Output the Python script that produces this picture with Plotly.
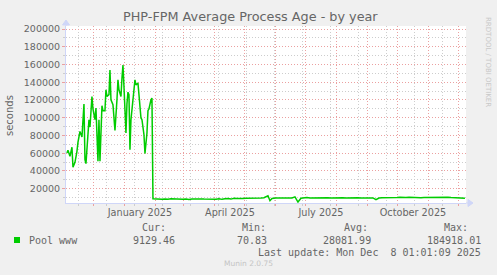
import plotly.graph_objects as go

# ---- data ----
dates_early = ["2024-11-04", "2024-11-05", "2024-11-07", "2024-11-09", "2024-11-10", "2024-11-12",
               "2024-11-14", "2024-11-15", "2024-11-17", "2024-11-19", "2024-11-21", "2024-11-22",
               "2024-11-23", "2024-11-25", "2024-11-26", "2024-11-27", "2024-11-29", "2024-11-30",
               "2024-12-02", "2024-12-03", "2024-12-04", "2024-12-05", "2024-12-06", "2024-12-07",
               "2024-12-09", "2024-12-10", "2024-12-12", "2024-12-13", "2024-12-14", "2024-12-16",
               "2024-12-17", "2024-12-18", "2024-12-20", "2024-12-21", "2024-12-22", "2024-12-24",
               "2024-12-25", "2024-12-26", "2024-12-28", "2024-12-29", "2024-12-30", "2024-12-31",
               "2025-01-02", "2025-01-03", "2025-01-04", "2025-01-05", "2025-01-06", "2025-01-07",
               "2025-01-08", "2025-01-10", "2025-01-11", "2025-01-12", "2025-01-14", "2025-01-15",
               "2025-01-17", "2025-01-18", "2025-01-20", "2025-01-21", "2025-01-23", "2025-01-24",
               "2025-01-25", "2025-01-27", "2025-01-28"]
values_early = [60300, 63300, 56500, 66700, 44200, 49800,
                62100, 72200, 84600, 78300, 115400, 52800,
                48300, 80900, 97800, 89500, 123900, 110000,
                97800, 110900, 69700, 50900, 97800, 50900,
                113500, 108000, 108000, 131500, 124000, 126000,
                153900, 120200, 114600, 97800, 85700, 120200,
                142700, 131500, 124000, 144600, 159500, 135200,
                82800, 116000, 128800, 126000, 64000, 97800,
                108000, 127000, 142700, 137000, 139000, 126000,
                99700, 97800, 80900, 59600, 82800, 108000,
                110000, 120200, 122100]

dates_late = ["2025-01-29", "2025-02-01", "2025-02-04", "2025-02-07", "2025-02-10", "2025-02-13",
              "2025-02-16", "2025-02-19", "2025-02-22", "2025-02-25", "2025-02-28", "2025-03-03",
              "2025-03-06", "2025-03-09", "2025-03-12", "2025-03-15", "2025-03-18", "2025-03-21",
              "2025-03-24", "2025-03-27", "2025-03-30", "2025-04-02", "2025-04-05", "2025-04-08",
              "2025-04-11", "2025-04-14", "2025-04-17", "2025-04-20", "2025-04-23", "2025-04-26",
              "2025-04-29", "2025-05-02", "2025-05-05", "2025-05-08", "2025-05-11", "2025-05-14",
              "2025-05-17", "2025-05-20", "2025-05-24", "2025-05-26", "2025-05-28", "2025-06-01",
              "2025-06-04", "2025-06-07", "2025-06-10", "2025-06-13", "2025-06-17", "2025-06-20",
              "2025-06-23", "2025-06-26", "2025-06-29", "2025-07-02", "2025-07-05", "2025-07-08",
              "2025-07-11", "2025-07-14", "2025-07-17", "2025-07-20", "2025-07-23", "2025-07-26",
              "2025-07-29", "2025-08-01", "2025-08-04", "2025-08-07", "2025-08-10", "2025-08-13",
              "2025-08-16", "2025-08-19", "2025-08-22", "2025-08-25", "2025-08-28", "2025-08-31",
              "2025-09-03", "2025-09-06", "2025-09-09", "2025-09-12", "2025-09-15", "2025-09-18",
              "2025-09-21", "2025-09-24", "2025-09-27", "2025-09-30", "2025-10-03", "2025-10-06",
              "2025-10-09", "2025-10-12", "2025-10-15", "2025-10-18", "2025-10-21", "2025-10-24",
              "2025-10-27", "2025-10-30", "2025-11-02", "2025-11-05", "2025-11-08", "2025-11-11",
              "2025-11-14", "2025-11-17", "2025-11-20", "2025-11-23", "2025-11-26", "2025-11-29",
              "2025-12-02", "2025-12-05", "2025-12-07"]
values_late = [8600, 8300, 8700, 8200, 8500, 8100,
               8600, 8400, 8800, 8300, 8200, 8500,
               7900, 8400, 8700, 8200, 8500, 8300,
               8100, 8600, 8400, 8200, 8700, 8000,
               8600, 8900, 8300, 9300, 9000, 9400,
               9100, 9300, 9200, 9500, 9300, 9400,
               9600, 9800, 12000, 6500, 9100, 9400,
               9300, 9500, 9200, 9400, 9600, 10800,
               5000, 9300, 9700, 10000, 9500, 9700,
               9900, 9600, 9800, 9700, 9900, 9600,
               9800, 9700, 9900, 9700, 9600, 9800,
               9700, 9900, 9800, 9600, 9800, 9700,
               9900, 9600, 7600, 9500, 9800, 9700,
               10000, 9900, 10200, 10100, 10300, 9900,
               10200, 10400, 10100, 10000, 10300, 9800,
               10100, 10200, 9900, 10300, 10000, 10200,
               9900, 10100, 10300, 10000, 9800, 10100,
               9900, 9600, 9200]

month_label_pos = ["2025-01-16", "2025-04-16", "2025-07-16", "2025-10-16"]
month_label_text = ["January 2025", "April 2025", "July 2025", "October 2025"]

series_name = "Pool www"
stat_headers = ["Cur:", "Min:", "Avg:", "Max:"]
stat_values = ["9129.46", "70.83", "28081.99", "184918.01"]
last_update = "Last update: Mon Dec\u00a0 8 01:01:09 2025"

# ---- layout geometry (pixels) ----
W, H = 497, 275
L, R, T, B = 66, 31, 26, 72
PW, PH = W - L - R, H - T - B


def PX(x):
    return (x - L) / PW


def PY(y):
    return (H - B - y) / PH


FONT = "DejaVu Sans"
MONO = "DejaVu Sans Mono"
FC = "#666666"
AXC = "#CFD6F8"
MAJ = "#EBA0A0"
MIN = "#CDCDCD"
DASH = "1px,2px"

fig = go.Figure()
fig.add_trace(go.Scatter(x=dates_early + dates_late, y=values_early + values_late,
                         mode="lines", line=dict(color="#00CC00", width=1.5),
                         hoverinfo="skip", showlegend=False))
# anchor trace so the label axis is drawn
fig.add_trace(go.Scatter(x=[month_label_pos[0]], y=[None], xaxis="x2", mode="markers",
                         hoverinfo="skip", showlegend=False))

fig.update_layout(
    width=W, height=H, autosize=False,
    margin=dict(l=L, r=R, t=T, b=B, pad=0),
    paper_bgcolor="#F0F0F0", plot_bgcolor="#FFFFFF",
    font=dict(family=FONT, color=FC, size=10),
    xaxis=dict(type="date", range=["2024-11-03 01:00", "2025-12-08 01:00"],
               tick0="2024-12-01", dtick="M1", showticklabels=False,
               showgrid=True, gridcolor=MAJ, griddash=DASH, gridwidth=1,
               ticks="outside", ticklen=2, tickcolor=MAJ,
               showline=True, linecolor=AXC, linewidth=1, zeroline=False,
               minor=dict(tick0="2024-11-16", dtick=28 * 86400000, showgrid=True,
                          gridcolor=MIN, griddash=DASH, gridwidth=1,
                          ticks="outside", ticklen=2, tickcolor=MIN),
               fixedrange=True),
    xaxis2=dict(type="date", overlaying="x", matches="x", anchor="y", side="bottom",
                tickmode="array", tickvals=month_label_pos, ticktext=month_label_text,
                showgrid=False, ticks="", showline=False, zeroline=False,
                ticklabelstandoff=2,
                tickfont=dict(family=FONT, size=9.7, color=FC)),
    yaxis=dict(range=[3900, 203400], tick0=0, dtick=20000, tickformat="d",
               showgrid=True, gridcolor=MAJ, griddash=DASH, gridwidth=1,
               ticks="outside", ticklen=3, tickcolor=MAJ,
               tickfont=dict(family=FONT, size=9.5, color=FC),
               showline=True, linecolor=AXC, linewidth=1, zeroline=False,
               minor=dict(dtick=10000, showgrid=True, gridcolor=MIN, griddash=DASH,
                          ticks="outside", ticklen=2, tickcolor=MIN),
               fixedrange=True),
)

ann = []
ann.append(dict(text="PHP-FPM Average Process Age - by year", x=PX(250), y=PY(17),
                font=dict(family=FONT, size=12.8, color=FC)))
ann.append(dict(text="seconds", x=PX(10), y=PY(115), textangle=-90,
                font=dict(family=FONT, size=10, color=FC)))
ann.append(dict(text="RRDTOOL / TOBI OETIKER", x=PX(488), y=PY(62), textangle=90,
                font=dict(family=FONT, size=7, color="#C8C8C8")))
ann.append(dict(text="Munin 2.0.75", x=PX(248), y=PY(263.5),
                font=dict(family=FONT, size=7.5, color="#C4C4C4")))
ann.append(dict(text=series_name, x=PX(27), y=PY(240), xanchor="left",
                font=dict(family=MONO, size=10, color=FC)))
hdr_right = [168, 268, 370, 470]
val_right = [177, 269, 373, 483]
for h, v, hx, vx in zip(stat_headers, stat_values, hdr_right, val_right):
    ann.append(dict(text=h, x=PX(hx), y=PY(227.5), xanchor="right",
                    font=dict(family=MONO, size=10, color=FC)))
    ann.append(dict(text=v, x=PX(vx), y=PY(240), xanchor="right",
                    font=dict(family=MONO, size=10, color=FC)))
ann.append(dict(text=last_update, x=PX(483), y=PY(252), xanchor="right",
                font=dict(family=MONO, size=10, color=FC)))
for a in ann:
    a.setdefault("xanchor", "center")
    a.update(xref="paper", yref="paper", yanchor="middle", showarrow=False)
fig.update_layout(annotations=ann)

shapes = [
    dict(type="rect", xref="paper", yref="paper", x0=PX(14), x1=PX(20), y0=PY(243), y1=PY(237),
         fillcolor="#00CC00", line=dict(width=0)),
    dict(type="line", xref="paper", yref="paper", x0=PX(466), x1=PX(470), y0=PY(203), y1=PY(203),
         line=dict(color=AXC, width=1)),
    dict(type="path", xref="paper", yref="paper",
         path=f"M {PX(468)} {PY(199.5)} L {PX(473)} {PY(203)} L {PX(468)} {PY(206.5)} Z",
         fillcolor=AXC, line=dict(color=AXC, width=1)),
    dict(type="line", xref="paper", yref="paper", x0=PX(66), x1=PX(66), y0=PY(26), y1=PY(22),
         line=dict(color=AXC, width=1)),
    dict(type="path", xref="paper", yref="paper",
         path=f"M {PX(62.5)} {PY(25)} L {PX(66)} {PY(20)} L {PX(69.5)} {PY(25)} Z",
         fillcolor=AXC, line=dict(color=AXC, width=1)),
]
fig.update_layout(shapes=shapes)

fig.write_html("out.html")
